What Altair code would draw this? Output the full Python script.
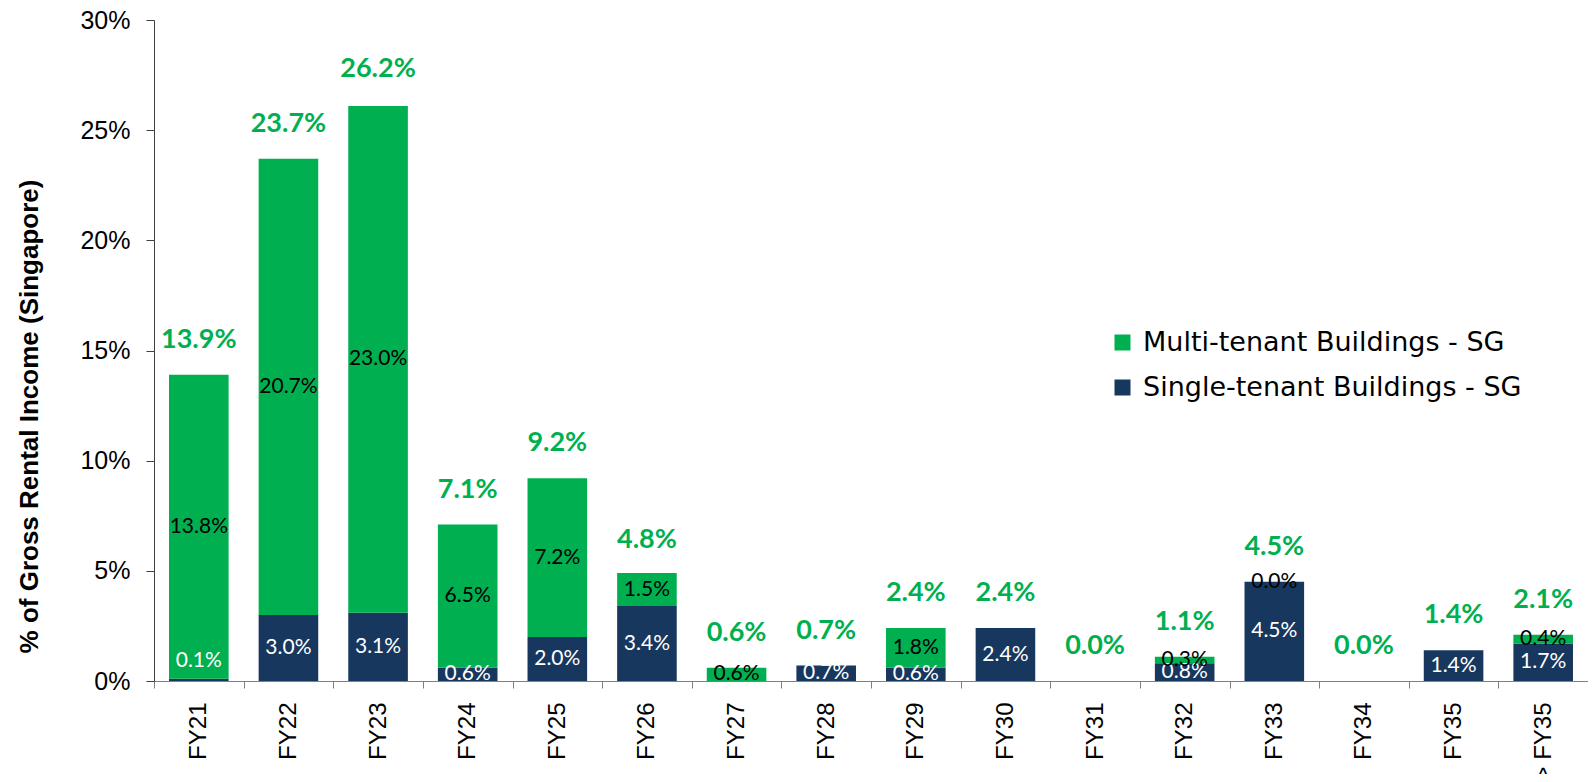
import altair as alt
import pandas as pd

categories = ["FY21", "FY22", "FY23", "FY24", "FY25", "FY26", "FY27", "FY28",
              "FY29", "FY30", "FY31", "FY32", "FY33", "FY34", "FY35", "> FY35"]
single_tenant = [0.1, 3.0, 3.1, 0.6, 2.0, 3.4, None, 0.7, 0.6, 2.4, None, 0.8, 4.5, None, 1.4, 1.7]
multi_tenant = [13.8, 20.7, 23.0, 6.5, 7.2, 1.5, 0.6, None, 1.8, None, None, 0.3, 0.0, None, None, 0.4]
totals = [13.9, 23.7, 26.2, 7.1, 9.2, 4.8, 0.6, 0.7, 2.4, 2.4, 0.0, 1.1, 4.5, 0.0, 1.4, 2.1]
y_ticks = [0, 5, 10, 15, 20, 25, 30]

MULTI = "Multi-tenant Buildings - SG"
SINGLE = "Single-tenant Buildings - SG"
GREEN = "#00B050"
NAVY = "#17375E"

rows = []
for i, c in enumerate(categories):
    rows.append({"cat": c, "series": SINGLE, "ord": 0,
                 "value": single_tenant[i] or 0.0, "raw": single_tenant[i]})
    rows.append({"cat": c, "series": MULTI, "ord": 1,
                 "value": multi_tenant[i] or 0.0, "raw": multi_tenant[i]})
df = pd.DataFrame(rows)
tot_df = pd.DataFrame({"cat": categories, "total": totals})

x_enc = alt.X(
    "cat:N", sort=categories,
    scale=alt.Scale(paddingInner=0, paddingOuter=0),
    axis=alt.Axis(title=None, labelAngle=270, labelAlign="right", labelBaseline="middle",
                  labelFont="Liberation Sans", labelFontSize=24, labelColor="black",
                  labelPadding=14, tickBand="extent", tickSize=7, tickColor="#808080",
                  domainColor="#808080", grid=False, labelOverlap=False),
)

base = alt.Chart(df).transform_stack(
    stack="value", groupby=["cat"], as_=["v0", "v1"],
    sort=[alt.SortField("ord", order="ascending")],
)

bars = base.mark_bar(width=alt.RelativeBandSize(0.665)).encode(
    x=x_enc,
    y=alt.Y("v1:Q", scale=alt.Scale(domain=[0, 30], nice=False),
            axis=alt.Axis(title="% of  Gross Rental Income (Singapore)", values=y_ticks,
                          labelExpr="datum.value + '%'", labelFont="Liberation Sans",
                          labelFontSize=25, labelColor="black", labelPadding=16,
                          tickSize=8, tickColor="#404040", domainColor="#404040",
                          grid=False, titleFont="Liberation Sans", titleFontSize=26,
                          titleFontWeight="bold", titleColor="black", titleAngle=270,
                          titleX=-125, titleY=396, titleAlign="center",
                          titleBaseline="middle")),
    y2="v0:Q",
    color=alt.Color("series:N", scale=alt.Scale(domain=[MULTI, SINGLE], range=[GREEN, NAVY]),
                    legend=alt.Legend(title=None, orient="none", legendX=955, legendY=309,
                                      symbolType="square", symbolSize=256, symbolStrokeWidth=0,
                                      labelFont="DejaVu Sans", labelFontSize=27,
                                      labelColor="black", rowPadding=17, labelOffset=7,
                                      labelLimit=0, padding=0)),
)

seg = base.transform_filter("isValid(datum.raw)").transform_calculate(
    mid="datum.raw < 0.3 && datum.ord == 0 ? datum.v0 + 0.9 : (datum.v0 + datum.v1) / 2",
    lab="format(datum.raw, '.1f') + '%'",
)

seg_single = seg.transform_filter(alt.datum.series == SINGLE).mark_text(
    font="Lato", fontSize=21, color="white", baseline="middle"
).encode(x=alt.X("cat:N", sort=categories), y="mid:Q", text="lab:N")

seg_multi = seg.transform_filter(alt.datum.series == MULTI).mark_text(
    font="Lato", fontSize=21, color="black", baseline="middle"
).encode(x=alt.X("cat:N", sort=categories), y="mid:Q", text="lab:N")

tot = alt.Chart(tot_df).transform_calculate(
    lab="format(datum.total, '.1f') + '%'"
).mark_text(font="Lato", fontSize=27, fontWeight="bold", color=GREEN,
            baseline="alphabetic", dy=-27).encode(
    x=alt.X("cat:N", sort=categories), y="total:Q", text="lab:N")

chart = alt.layer(bars, seg_single, seg_multi, tot).properties(
    width=1434, height=661,
    autosize=alt.AutoSizeParams(type="none"),
    padding={"left": 146, "top": 12, "right": 0, "bottom": 93},
).configure_view(stroke=None)

chart.save("out.html", embed_options={"renderer": "svg", "actions": False})
